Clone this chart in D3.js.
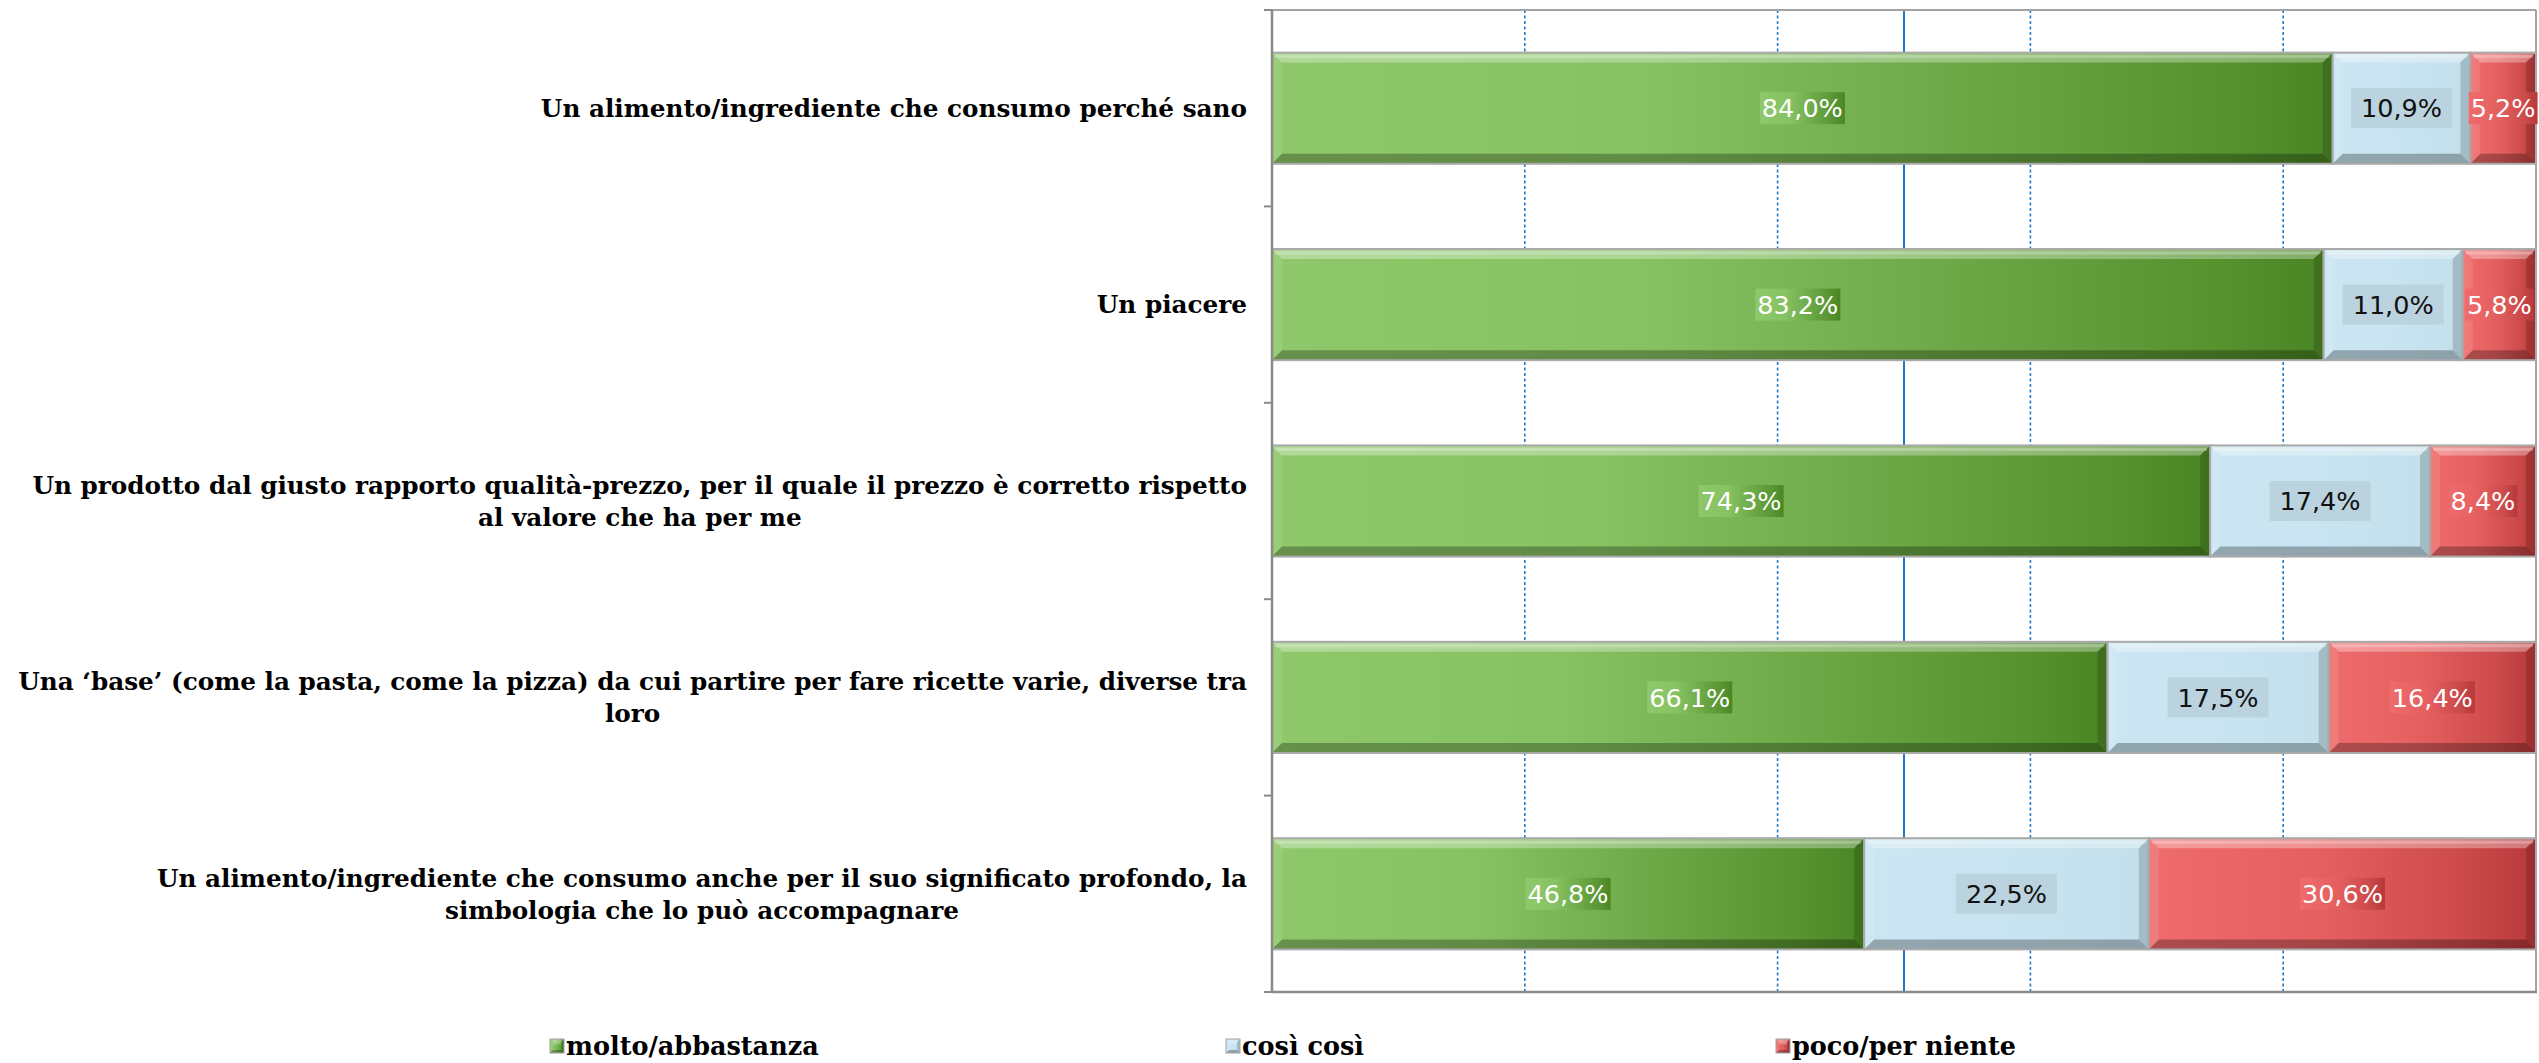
<!DOCTYPE html>
<html>
<head>
<meta charset="utf-8">
<script src="https://cdn.jsdelivr.net/npm/d3@7/dist/d3.min.js"></script>
<style>
  html, body { margin: 0; padding: 0; background: #ffffff; overflow: hidden; }
  svg { display: block; }
</style>
</head>
<body>
<script>
// ---------------- DATA ----------------
const categories = [
  "Un alimento/ingrediente che consumo perché sano",
  "Un piacere",
  "Un prodotto dal giusto rapporto qualità-prezzo, per il quale il prezzo è corretto rispetto\nal valore che ha per me",
  "Una ‘base’ (come la pasta, come la pizza) da cui partire per fare ricette varie, diverse tra\nloro",
  "Un alimento/ingrediente che consumo anche per il suo significato profondo, la\nsimbologia che lo può accompagnare"
];
const seriesNames = ["molto/abbastanza", "così così", "poco/per niente"];
const molto = [84.0, 83.2, 74.3, 66.1, 46.8];
const cosi  = [10.9, 11.0, 17.4, 17.5, 22.5];
const poco  = [5.2, 5.8, 8.4, 16.4, 30.6];
const gridDashed = [0.2, 0.4, 0.6, 0.8];
const gridSolid = [0.5];

// ---------------- LAYOUT ----------------
const W = 2539, H = 1063;
const plot = { left: 1272, right: 2536, top: 10, bottom: 992 };
const labelRight = 1247;
const catFont = "'DejaVu Serif', serif";
const catSize = 24.7;
const legSize = 25.5;
const valFont = "'DejaVu Sans', Verdana, sans-serif";
const valSize = 25.5;

const rows = categories.map((c, i) => ({ cat: c, s0: molto[i], s1: cosi[i], s2: poco[i] }));
const keys = ["s0", "s1", "s2"];
const stack = d3.stack().keys(keys).offset(d3.stackOffsetExpand);
const layers = stack(rows);

const x = d3.scaleLinear().domain([0, 1]).range([plot.left, plot.right]);
const y = d3.scaleBand().domain(categories).range([plot.top, plot.bottom])
  .paddingInner(0.434).paddingOuter(0.217);

const svg = d3.select("body").append("svg").attr("width", W).attr("height", H);
const defs = svg.append("defs");

const gradStops = [
  [[0, "#8ec86a"], [0.35, "#86c262"], [0.65, "#6ca846"], [0.9, "#56932f"], [1, "#4a8524"]],
  [[0, "#cbe6f2"], [0.5, "#c8e4f0"], [1, "#c3dfeb"]],
  [[0, "#ef6c6c"], [0.45, "#e55f5f"], [0.8, "#cd4b4b"], [1, "#b8393b"]]
];
gradStops.forEach((st, i) => {
  const g = defs.append("linearGradient").attr("id", "grad" + i)
    .attr("x1", 0).attr("x2", 1).attr("y1", 0).attr("y2", 0);
  st.forEach(s => g.append("stop").attr("offset", s[0]).attr("stop-color", s[1]));
});

// ---------------- GRID ----------------
const grid = svg.append("g");
grid.selectAll("line.gd").data(gridDashed).join("line")
  .attr("x1", d => x(d)).attr("x2", d => x(d))
  .attr("y1", plot.top).attr("y2", plot.bottom)
  .attr("stroke", "#2377c9").attr("stroke-width", 1.6).attr("stroke-dasharray", "3,2.5");
grid.selectAll("line.gs").data(gridSolid).join("line")
  .attr("x1", d => x(d)).attr("x2", d => x(d))
  .attr("y1", plot.top).attr("y2", plot.bottom)
  .attr("stroke", "#2377c9").attr("stroke-width", 2);

// plot frame: top & right
svg.append("line").attr("x1", plot.left).attr("x2", plot.right).attr("y1", plot.top).attr("y2", plot.top)
  .attr("stroke", "#a3a3a3").attr("stroke-width", 2);
svg.append("line").attr("x1", plot.right).attr("x2", plot.right).attr("y1", plot.top).attr("y2", plot.bottom)
  .attr("stroke", "#a3a3a3").attr("stroke-width", 2);

// ---------------- BARS ----------------
function bevel(g, x0, y0, w, h, b) {
  b = Math.min(b, w / 2, h / 2);
  const P = pts => pts.map(p => p.join(",")).join(" ");
  g.append("polygon").attr("points", P([[x0, y0], [x0 + w, y0], [x0 + w - b, y0 + b], [x0 + b, y0 + b]]))
    .attr("fill", "#ffffff").attr("opacity", 0.32);
  g.append("polygon").attr("points", P([[x0, y0], [x0 + b, y0 + b], [x0 + b, y0 + h - b], [x0, y0 + h]]))
    .attr("fill", "#ffffff").attr("opacity", 0.1);
  g.append("polygon").attr("points", P([[x0, y0 + h], [x0 + b, y0 + h - b], [x0 + w - b, y0 + h - b], [x0 + w, y0 + h]]))
    .attr("fill", "#000000").attr("opacity", 0.28);
  g.append("polygon").attr("points", P([[x0 + w, y0], [x0 + w, y0 + h], [x0 + w - b, y0 + h - b], [x0 + w - b, y0 + b]]))
    .attr("fill", "#000000").attr("opacity", 0.16);
  g.append("line").attr("x1", x0 + 3).attr("x2", x0 + w - 3).attr("y1", y0 + 4).attr("y2", y0 + 4)
    .attr("stroke", "#ffffff").attr("stroke-opacity", 0.25).attr("stroke-width", 3);
}

const bars = svg.append("g");
layers.forEach((layer, li) => {
  layer.forEach((d) => {
    const x0 = x(d[0]), x1 = x(d[1]);
    const y0 = y(d.data.cat), h = y.bandwidth();
    const g = bars.append("g");
    g.append("rect").attr("x", x0).attr("y", y0).attr("width", x1 - x0).attr("height", h)
      .attr("fill", `url(#grad${li})`);
    bevel(g, x0, y0, x1 - x0, h, 10);
    g.append("rect").attr("x", x0).attr("y", y0).attr("width", x1 - x0).attr("height", h)
      .attr("fill", "none").attr("stroke", "#a9a9a9").attr("stroke-width", 2);
  });
});

// ---------------- VALUE LABELS ----------------
const fmt = v => v.toFixed(1).replace(".", ",") + "%";
const rawSeries = [molto, cosi, poco];
const vl = svg.append("g");
layers.forEach((layer, li) => {
  layer.forEach((d, ri) => {
    const cx = (x(d[0]) + x(d[1])) / 2;
    const cy = y(d.data.cat) + y.bandwidth() / 2;
    const g = vl.append("g");
    const t = g.append("text").attr("x", cx).attr("y", cy).attr("dy", "0.36em")
      .attr("text-anchor", "middle")
      .attr("font-family", valFont).attr("font-size", valSize)
      .attr("fill", li === 1 ? "#111111" : "#ffffff")
      .text(fmt(rawSeries[li][ri]));
    const tw = t.node().getComputedTextLength();
    const bw = li === 1 ? tw + 20 : tw + 4;
    const bh = li === 1 ? 40 : 32;
    g.insert("rect", "text").attr("x", cx - bw / 2).attr("y", cy - bh / 2)
      .attr("width", bw).attr("height", bh)
      .attr("fill", li === 1 ? "#bad3df" : `url(#grad${li})`);
  });
});

// ---------------- LEFT / BOTTOM AXIS ----------------
const off = (y.step() - y.bandwidth()) / 2;
const boundaries = categories.map(c => y(c) - off).concat([plot.bottom]);
svg.append("g").selectAll("line").data(boundaries).join("line")
  .attr("x1", plot.left - 8).attr("x2", plot.left).attr("y1", d => d).attr("y2", d => d)
  .attr("stroke", "#8a8a8a").attr("stroke-width", 2);
svg.append("line").attr("x1", plot.left).attr("x2", plot.left).attr("y1", plot.top).attr("y2", plot.bottom)
  .attr("stroke", "#8a8a8a").attr("stroke-width", 2.5);
svg.append("line").attr("x1", plot.left).attr("x2", plot.right + 1).attr("y1", plot.bottom).attr("y2", plot.bottom)
  .attr("stroke", "#8a8a8a").attr("stroke-width", 2.5);

// ---------------- CATEGORY LABELS ----------------
const cl = svg.append("g");
categories.forEach(c => {
  const lines = c.split("\n");
  const cy = y(c) + y.bandwidth() / 2;
  const lh = 32;
  const g = cl.append("g");
  const texts = lines.map((ln, i) => g.append("text")
    .attr("y", cy + (i - (lines.length - 1) / 2) * lh).attr("dy", "0.36em")
    .attr("text-anchor", "middle")
    .attr("font-family", catFont).attr("font-weight", "bold").attr("font-size", catSize)
    .attr("fill", "#000").text(ln));
  const maxW = d3.max(texts, t => t.node().getComputedTextLength());
  texts.forEach(t => t.attr("x", labelRight - maxW / 2));
});

// ---------------- LEGEND ----------------
const legendX = [550, 1226, 1776];
const legendY = 1046;
const lg = svg.append("g");
seriesNames.forEach((n, i) => {
  const g = lg.append("g");
  const mx = legendX[i], my = legendY - 7;
  g.append("rect").attr("x", mx).attr("y", my).attr("width", 14).attr("height", 14)
    .attr("fill", `url(#grad${i})`);
  bevel(g, mx, my, 14, 14, 3);
  g.append("rect").attr("x", mx).attr("y", my).attr("width", 14).attr("height", 14)
    .attr("fill", "none").attr("stroke", "#a0a0a0").attr("stroke-width", 1);
  g.append("text").attr("x", mx + 16).attr("y", legendY).attr("dy", "0.34em")
    .attr("font-family", catFont).attr("font-weight", "bold").attr("font-size", legSize)
    .attr("fill", "#000").text(n);
});
</script>
</body>
</html>
